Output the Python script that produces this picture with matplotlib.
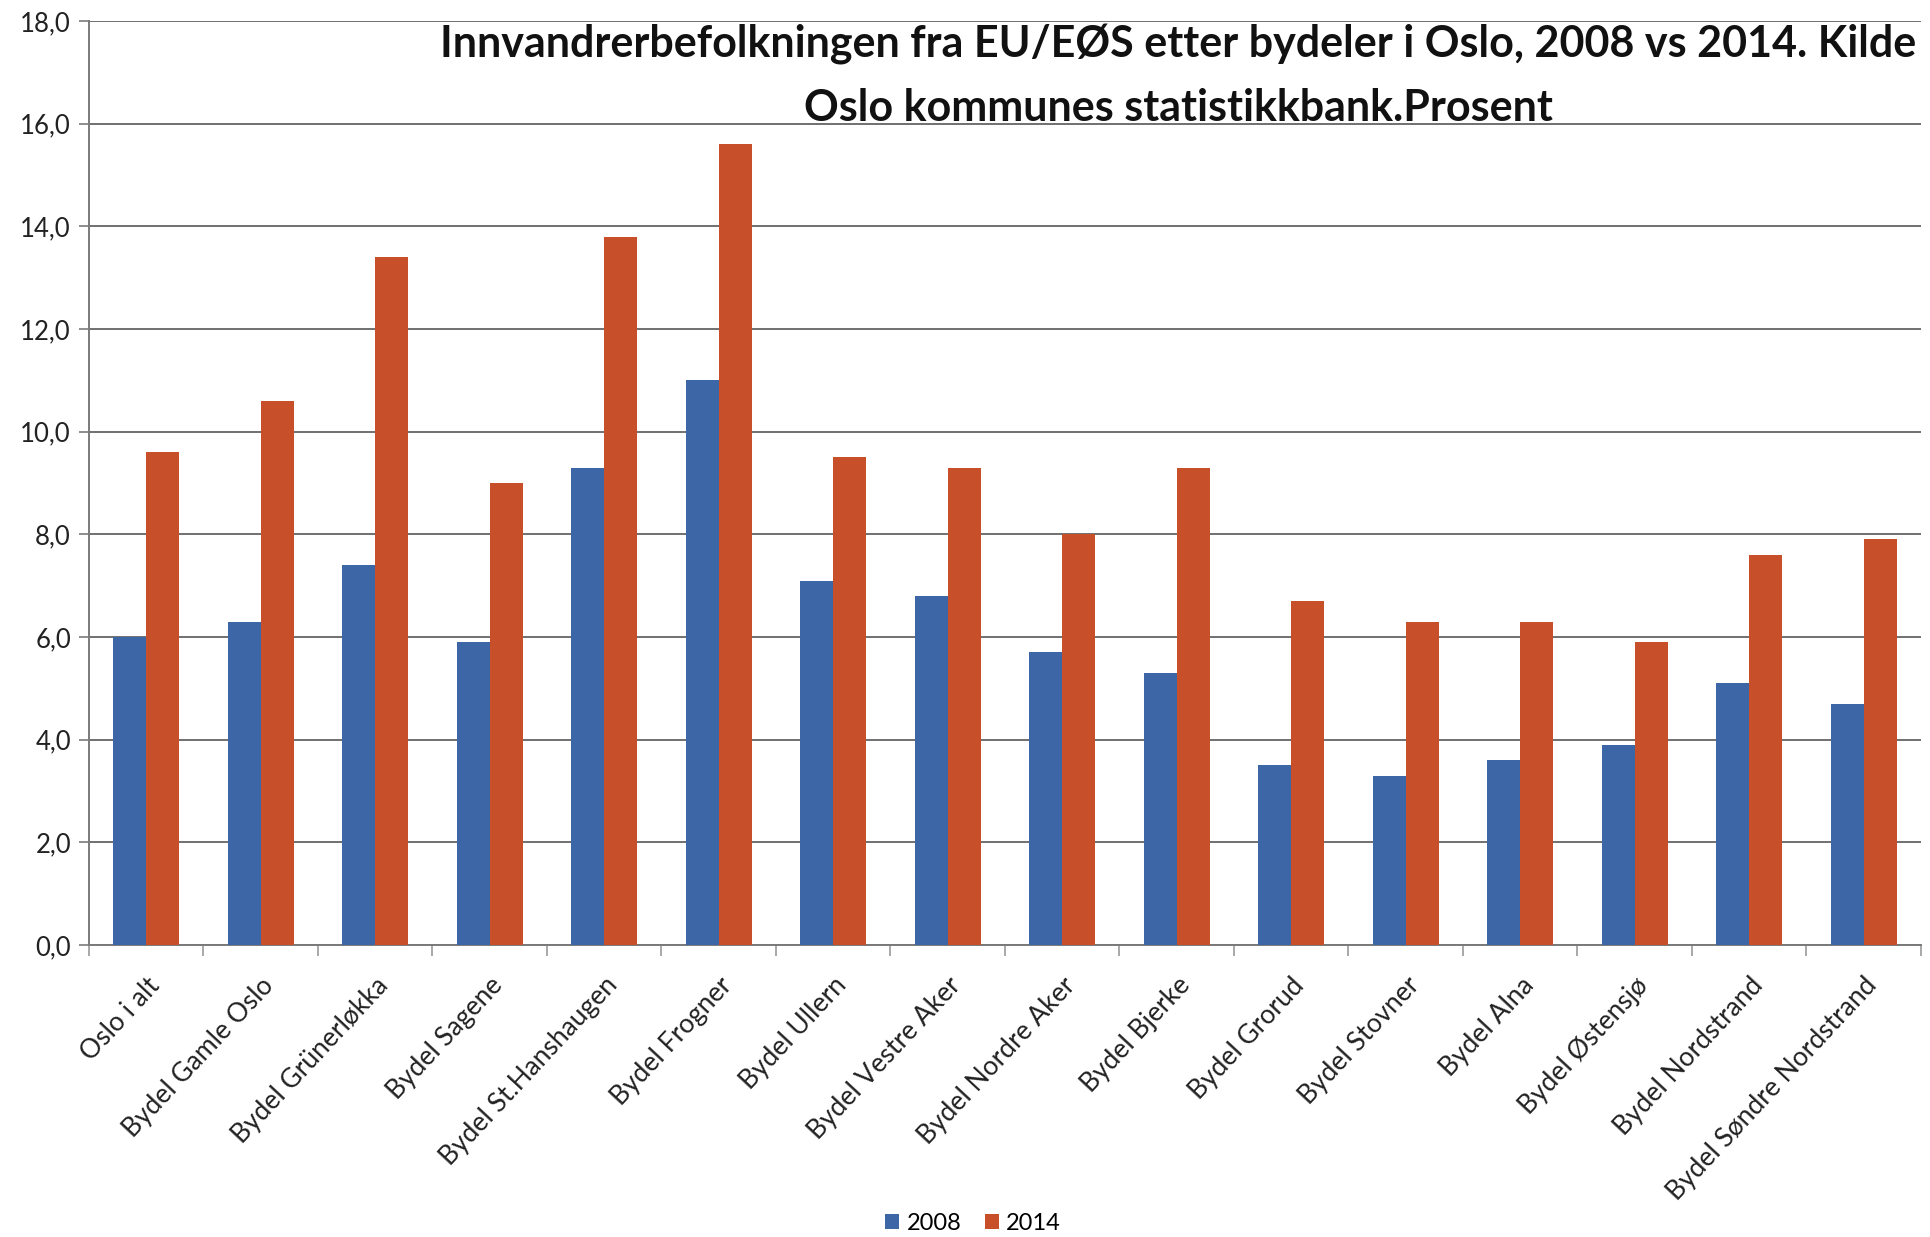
import matplotlib
matplotlib.use("Agg")
import matplotlib.pyplot as plt
import numpy as np

categories = ["Oslo i alt", "Bydel Gamle Oslo", "Bydel Grünerløkka", "Bydel Sagene",
              "Bydel St.Hanshaugen", "Bydel Frogner", "Bydel Ullern", "Bydel Vestre Aker",
              "Bydel Nordre Aker", "Bydel Bjerke", "Bydel Grorud", "Bydel Stovner",
              "Bydel Alna", "Bydel Østensjø", "Bydel Nordstrand", "Bydel Søndre Nordstrand"]
v2008 = [6.0, 6.3, 7.4, 5.9, 9.3, 11.0, 7.1, 6.8, 5.7, 5.3, 3.5, 3.3, 3.6, 3.9, 5.1, 4.7]
v2014 = [9.6, 10.6, 13.4, 9.0, 13.8, 15.6, 9.5, 9.3, 8.0, 9.3, 6.7, 6.3, 6.3, 5.9, 7.6, 7.9]
series_labels = ["2008", "2014"]
yticks = [0, 2, 4, 6, 8, 10, 12, 14, 16, 18]
title = "Innvandrerbefolkningen fra EU/EØS etter bydeler i Oslo, 2008 vs 2014. Kilde\nOslo kommunes statistikkbank.Prosent"

plt.rcParams['font.family'] = ['Lato', 'DejaVu Sans']

W, H = 1931, 1237
fig = plt.figure(figsize=(W / 100, H / 100), dpi=100)
ax = fig.add_axes([89 / W, 1 - 945 / H, (1921 - 89) / W, (945 - 21) / H])

x = np.arange(len(categories))
bw = 0.29
c08 = "#3D66A7"
c14 = "#C7502B"
ax.bar(x - bw / 2, v2008, bw, color=c08, label=series_labels[0], zorder=3)
ax.bar(x + bw / 2, v2014, bw, color=c14, label=series_labels[1], zorder=3)

ax.set_xlim(-0.5, len(categories) - 0.5)
ax.set_ylim(0, 18)
ax.set_yticks(yticks)
ax.set_yticklabels([f"{t:.1f}".replace(".", ",") for t in yticks], fontsize=18.5, color="#222222")
ax.yaxis.grid(True, color="#707070", linewidth=1.4, zorder=0)
ax.tick_params(axis='y', length=7, width=1.2, color="#7a7a7a", pad=6)

ax.set_xticks(x)
ax.set_xticklabels(categories, rotation=47, ha='right', rotation_mode='anchor',
                   fontsize=19, color="#222222")
ax.set_xticks(np.arange(-0.5, len(categories), 1), minor=True)
ax.tick_params(axis='x', which='major', length=0, pad=20)
ax.tick_params(axis='x', which='minor', length=8, width=1.2, color="#9a9a9a")

for s in ['top', 'right']:
    ax.spines[s].set_visible(False)
ax.spines['left'].set_color("#7a7a7a")
ax.spines['left'].set_linewidth(1.4)
ax.spines['bottom'].set_color("#7a7a7a")
ax.spines['bottom'].set_linewidth(1.4)

fig.text(1178 / W, 1 - 76 / H, title, ha='center', va='center', fontsize=31,
         fontweight='bold', linespacing=1.68, color="#111111")

fig.legend(loc='center', bbox_to_anchor=(973 / W, 1 - 1223 / H), ncol=2, frameon=False,
           fontsize=17, handlelength=0.6, handleheight=0.6, handletextpad=0.3,
           columnspacing=1.0)

fig.savefig("out.png", dpi=100)
